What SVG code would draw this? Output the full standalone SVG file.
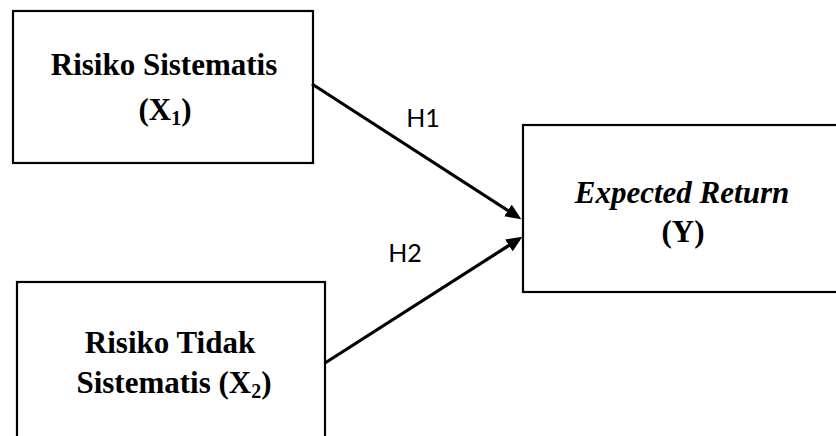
<svg xmlns="http://www.w3.org/2000/svg" width="836" height="436" viewBox="0 0 836 436">
<style>
.box{fill:#fff;stroke:#000;stroke-width:2.2}
.t{font-family:"Liberation Serif","Times New Roman",serif;font-weight:bold;font-size:31px;text-anchor:middle;fill:#000}
.it{font-style:italic}
.lbl{font-family:Lato,"Open Sans",sans-serif;font-size:25px;text-anchor:middle;fill:#000}
.ln{stroke:#000;stroke-width:3.2;fill:none}
</style>
<defs>
<marker id="ah" markerUnits="userSpaceOnUse" markerWidth="18" markerHeight="14" refX="12" refY="7" orient="auto">
<path d="M0,0 L16,7 L0,14 z" fill="#000"/>
</marker>
</defs>
<g id="x1">
<rect class="box" x="13" y="11" width="300" height="152"/>
<text class="t" x="164" y="75">Risiko Sistematis</text>
<text class="t" x="165" y="120">(X<tspan font-size="20" dy="5">1</tspan><tspan dy="-5">)</tspan></text>
</g>
<g id="x2">
<rect class="box" x="17" y="282" width="308" height="170"/>
<text class="t" x="170" y="353">Risiko Tidak</text>
<text class="t" x="174" y="393">Sistematis (X<tspan font-size="20" dy="5">2</tspan><tspan dy="-5">)</tspan></text>
</g>
<g id="y">
<rect class="box" x="523" y="125" width="330" height="167"/>
<text class="t it" x="682" y="203" font-size="32">Expected Return</text>
<text class="t" x="683" y="242">(Y)</text>
</g>
<g id="connectors">
<line class="ln" x1="312" y1="84" x2="518" y2="217" marker-end="url(#ah)"/>
<line class="ln" x1="325" y1="363" x2="519" y2="239" marker-end="url(#ah)"/>
<text class="lbl" x="423" y="127">H1</text>
<text class="lbl" x="405" y="262">H2</text>
</g>
</svg>
